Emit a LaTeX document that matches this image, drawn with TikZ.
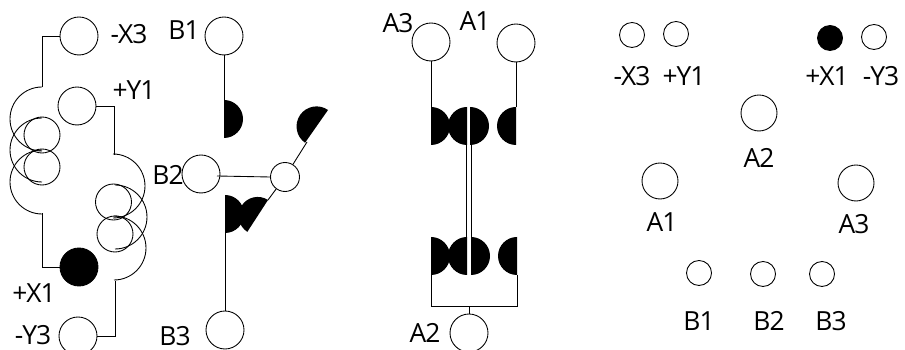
\documentclass[tikz,border=0pt]{standalone}
\usepackage{fontspec}
\setmainfont[LetterSpace=-4]{Open Sans}
\tikzset{
    port/.style={draw, circle, inner sep=0pt, minimum size=0.76cm, line width=0.5pt},
    portsm/.style={port, minimum size=0.5cm},
    hub/.style={port, minimum size=0.58cm},
    solid port/.style={fill=black},
    lbl/.style={inner sep=0pt, font=\fontsize{15pt}{16pt}\selectfont},
    wire/.style={line width=0.5pt}
}

\begin{document}
\begin{tikzpicture}[x=0.02cm, y=0.02cm]
    \useasboundingbox (0,0) rectangle (905,-350);

    % left winding
    \node[port] (mX) at (79,-36) {};
    \node[port] (pY) at (77,-106) {};
    \node[port, solid port] (pX) at (79,-267) {};
    \node[port] (mY) at (78,-336) {};
    \node[lbl] (lmX) at (129,-34) {-X3};
    \node[lbl] (lpY) at (134,-90) {+Y1};
    \node[lbl] (lpX) at (34,-293) {+X1};
    \node[lbl] (lmY) at (33,-335) {-Y3};
    \coordinate (coilAtop) at (42,-87);
    \coordinate (coilAbot) at (42,-213);
    \coordinate (coilBtop) at (114,-155);
    \coordinate (coilBbot) at (115,-281);
    \draw[wire] (mX.west) -| (coilAtop);
    \draw[wire] (pX.west) -| (coilAbot);
    \draw[wire] (pY.east) -| (coilBtop);
    \draw[wire] (mY.east) -| (coilBbot);
    \foreach \y in {119,150,182}
        \draw[wire] (42,-\y+32) arc[start angle=90, end angle=270, radius=32];
    \foreach \y in {135,167}
        \draw[wire] (42,-\y) circle[radius=18];
    \foreach \y/\x in {186/113,217/115,248/114}
        \draw[wire] (\x,-\y+32) arc[start angle=90, end angle=-90, radius=32];
    \foreach \y/\x in {202/113.5,234/115}
        \draw[wire] (\x,-\y) circle[radius=18];

    % B column
    \node[port] (B1) at (224,-36) {};
    \node[port] (B2) at (201,-174) {};
    \node[port] (B3) at (225,-330) {};
    \node[hub] (hub) at (285,-177) {};
    \node[lbl] (lB1) at (184,-30) {B1};
    \node[lbl] (lB2) at (168,-175) {B2};
    \node[lbl] (lB3) at (175,-336) {B3};
    \coordinate (b1end) at (224,-100);
    \coordinate (b3end) at (225,-233);
    \coordinate (b2in) at (217,-176);
    \coordinate (vaneup) at (307,-142);
    \coordinate (vanedn) at (268,-200);
    \draw[wire] (B1.south) -- (b1end);
    \draw[wire] (B3.north) -- (b3end);
    \draw[wire] (b2in) -- (hub.west);
    \draw[wire] (hub) -- (vaneup);
    \draw[wire] (hub) -- (vanedn);
    \fill (b1end) arc[start angle=90, end angle=-90, radius=19] -- cycle;
    \fill (b3end) arc[start angle=-90, end angle=90, radius=19] -- cycle;
    \fill (328,-110) arc[start angle=55, end angle=235, radius=20] -- cycle;
    \fill (vanedn) arc[start angle=57, end angle=237, radius=19] -- cycle;

    % A column
    \node[port] (A3) at (431,-42) {};
    \node[port] (A1) at (516,-43) {};
    \node[port] (A2) at (469,-333) {};
    \node[lbl] (lA3) at (398,-23) {A3};
    \node[lbl] (lA1) at (475,-21) {A1};
    \node[lbl] (lA2) at (425,-333) {A2};
    \coordinate (a3end) at (431,-107);
    \coordinate (a1end) at (516,-107);
    \coordinate (barL) at (431,-306);
    \coordinate (barR) at (517,-306);
    \coordinate (barM) at (469,-306);
    \draw[wire] (A3.south) -- (a3end);
    \draw[wire] (A1.south) -- (a1end);
    \draw[wire] (A2.north) -- (barM);
    \draw[wire] (431,-275) -- (barL) -- (barR) -- (517,-275);
    \draw[wire] (466,-145) -- (466,-237);
    \draw[wire] (471,-145) -- (471,-237);
    \foreach \y/\xa/\xb/\xc/\xd in {107/431/467/470/516,237/431/467/471/517} {
        \fill (\xa,-\y) arc[start angle=90, end angle=-90, radius=19] -- cycle;
        \fill (\xb,-\y) arc[start angle=90, end angle=270, radius=19] -- cycle;
        \fill (\xc,-\y) arc[start angle=90, end angle=-90, radius=19] -- cycle;
        \fill (\xd,-\y) arc[start angle=90, end angle=270, radius=19] -- cycle;
    }

    % pin layout
    \node[portsm] (pinmX) at (632,-35) {};
    \node[portsm] (pinpY) at (676,-34) {};
    \node[portsm, solid port] (pinpX) at (830,-38) {};
    \node[portsm] (pinmY) at (874,-37) {};
    \node[port, minimum size=0.72cm] (pinA2) at (759,-113) {};
    \node[port, minimum size=0.72cm] (pinA1) at (660,-181) {};
    \node[port, minimum size=0.72cm] (pinA3) at (856,-183) {};
    \node[portsm] (pinB1) at (699,-273) {};
    \node[portsm] (pinB2) at (763,-274) {};
    \node[portsm] (pinB3) at (822,-274) {};
    \node[lbl] (tmX) at (632,-76) {-X3};
    \node[lbl] (tpY) at (684,-76) {+Y1};
    \node[lbl] (tpX) at (827,-76) {+X1};
    \node[lbl] (tmY) at (881,-76) {-Y3};
    \node[lbl] (tA2) at (759,-158) {A2};
    \node[lbl] (tA1) at (662,-222) {A1};
    \node[lbl] (tA3) at (854,-224) {A3};
    \node[lbl] (tB1) at (699,-321) {B1};
    \node[lbl] (tB2) at (769,-321) {B2};
    \node[lbl] (tB3) at (831,-321) {B3};
\end{tikzpicture}
\end{document}
